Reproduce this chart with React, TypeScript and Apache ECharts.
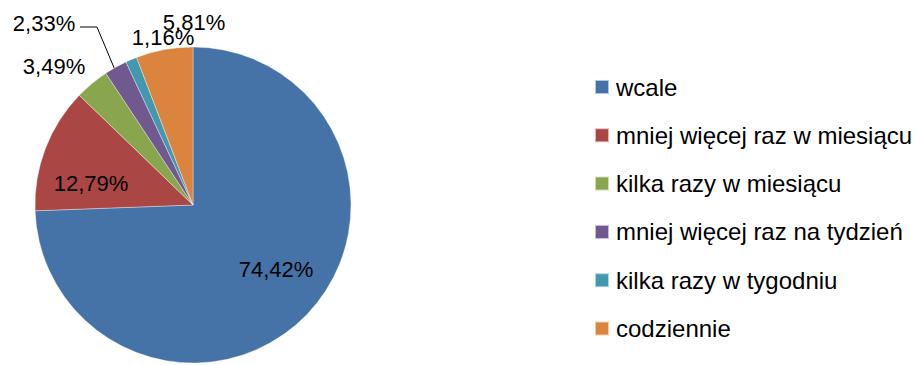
import React, { useEffect, useRef } from "react";
import * as echarts from "echarts";

const categories = [
  "wcale",
  "mniej więcej raz w miesiącu",
  "kilka razy w miesiącu",
  "mniej więcej raz na tydzień",
  "kilka razy w tygodniu",
  "codziennie",
];
const counts = [64, 11, 3, 2, 1, 5];
const colors = ["#4572A7", "#AA4643", "#89A54E", "#71588F", "#4198AF", "#DB843D"];

// label centres (style/layout)
const labelPos: [number, number][] = [
  [276, 269],
  [91, 183],
  [54, 66],
  [44, 23],
  [163, 37],
  [194, 22],
];

export default function App() {
  const ref = useRef<HTMLDivElement>(null);
  useEffect(() => {
    if (!ref.current) return;
    const chart = echarts.init(ref.current, null, { renderer: "svg" });
    const font = "'Liberation Sans', Arial, sans-serif";
    chart.setOption({
      animation: false,
      backgroundColor: "#ffffff",
      color: colors,
      legend: {
        orient: "vertical",
        left: 594,
        top: 75,
        padding: 0,
        itemWidth: 14,
        itemHeight: 14,
        itemGap: 24.3,
        icon: "rect",
        textStyle: {
          fontFamily: font,
          fontSize: 24,
          color: "#000",
          lineHeight: 24,
          padding: [0, 0, 0, 2],
        },
        data: categories,
      },
      series: [
        {
          type: "pie",
          center: [193, 205],
          radius: [0, 158],
          startAngle: 90,
          clockwise: true,
          avoidLabelOverlap: false,
          itemStyle: { borderColor: "rgba(255,255,255,0.6)", borderWidth: 0.6 },
          label: {
            show: true,
            position: "inside",
            fontFamily: font,
            fontSize: 22,
            color: "#000",
            formatter: (p: any) => p.percent.toFixed(2).replace(".", ",") + "%",
          },
          labelLine: { show: false },
          data: categories.map((name, i) => ({
            name,
            value: counts[i],
            label: i >= 2 ? { position: "outside" } : undefined,
            labelLine: i === 3 ? { show: true, lineStyle: { color: "#000", width: 1 } } : { show: false },
          })),
          labelLayout: (params: any) => {
            const i = params.dataIndex;
            const res: any = {
              x: labelPos[i][0],
              y: labelPos[i][1],
              align: "center",
              verticalAlign: "middle",
            };
            if (i === 3) {
              res.labelLinePoints = [
                [115, 70],
                [97, 27],
                [80, 27],
              ];
            }
            return res;
          },
        },
      ],
    });
    return () => chart.dispose();
  }, []);
  return (
    <div
      ref={ref}
      style={{ position: "fixed", left: 0, top: 0, width: 922, height: 365 }}
    />
  );
}
